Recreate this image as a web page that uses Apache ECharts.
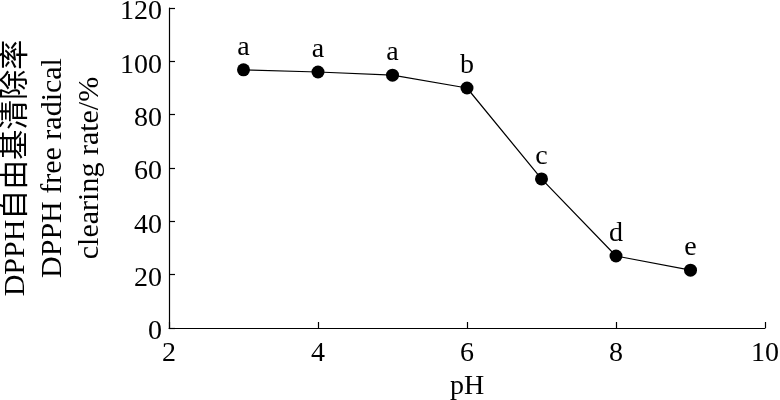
<!DOCTYPE html>
<html>
<head>
<meta charset="utf-8">
<script src="https://cdn.jsdelivr.net/npm/echarts@6/dist/echarts.min.js"></script>
<style>html,body{margin:0;padding:0;background:#fff}#c{width:780px;height:400px}</style>
</head>
<body>
<div id="c"></div>
<script>
const phValues = [3, 4, 5, 6, 7, 8, 9];
const clearingRate = [96.8, 96.0, 94.8, 90.0, 55.9, 27.0, 21.7];
const sigLetters = ['a', 'a', 'a', 'b', 'c', 'd', 'e'];
const xTicks = [2, 4, 6, 8, 10];
const yTicks = [0, 20, 40, 60, 80, 100, 120];

const FONT = '"Liberation Serif", "Times New Roman", "Noto Sans CJK SC", serif';
const chart = echarts.init(document.getElementById('c'), null, {renderer: 'canvas'});
chart.setOption({
  animation: false,
  backgroundColor: '#fff',
  grid: {left: 169, right: 15, top: 8, bottom: 72, containLabel: false, outerBoundsMode: 'none'},
  xAxis: {
    type: 'value', min: xTicks[0], max: xTicks[xTicks.length - 1], interval: 2,
    name: 'pH', nameLocation: 'middle', nameGap: 42,
    nameTextStyle: {fontFamily: FONT, fontSize: 28, color: '#000'},
    axisLine: {show: true, lineStyle: {color: '#000', width: 1.2}},
    axisTick: {show: true, inside: true, length: 6, lineStyle: {color: '#000', width: 1.2}},
    axisLabel: {fontFamily: FONT, fontSize: 28, color: '#000', margin: 12},
    splitLine: {show: false}
  },
  yAxis: {
    type: 'value', min: yTicks[0], max: yTicks[yTicks.length - 1], interval: 20,
    name: 'DPPH自由基清除率\nDPPH free radical\nclearing rate/%',
    nameLocation: 'middle', nameRotate: 90, nameGap: 59,
    nameTextStyle: {fontFamily: FONT, fontSize: 30, color: '#000', lineHeight: 37, align: 'center'},
    axisLine: {show: true, lineStyle: {color: '#000', width: 1.2}},
    axisTick: {show: true, inside: true, length: 6, lineStyle: {color: '#000', width: 1.2}},
    axisLabel: {fontFamily: FONT, fontSize: 28, color: '#000', margin: 7, verticalAlign: 'top', lineHeight: 8},
    splitLine: {show: false}
  },
  series: [{
    type: 'line',
    data: phValues.map((p, i) => [p, clearingRate[i]]),
    symbol: 'circle', symbolSize: 13,
    itemStyle: {color: '#000'},
    lineStyle: {color: '#000', width: 1.2},
    label: {
      show: true, position: 'top', distance: 2,
      fontFamily: FONT, fontSize: 28, color: '#000',
      formatter: p => sigLetters[p.dataIndex]
    }
  }]
});
</script>
</body>
</html>
